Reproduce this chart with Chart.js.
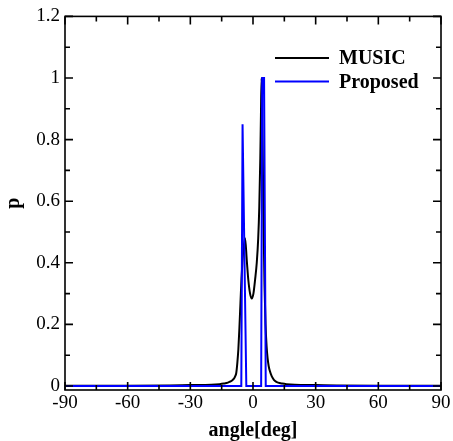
<!DOCTYPE html>
<html>
<head>
<meta charset="utf-8">
<script src="https://cdn.jsdelivr.net/npm/chart.js@4"></script>
<style>
  html, body { margin: 0; padding: 0; background: #fff; }
  #wrap { width: 453px; height: 441px; position: relative; }
</style>
</head>
<body>
<div id="wrap"><canvas id="chart"></canvas></div>
<script>
// MUSIC pseudo-spectrum (normalised), angle in degrees
const musicAngle = [-90, -60, -40, -30, -20, -16, -14, -12, -11, -10, -9, -8.5, -8, -7.5, -7, -6.5, -6, -5.5, -5, -4.5,
  -3.8, -3.0, -2.25, -1.4, -0.6, 0.2, 1.0, 1.8, 2.5, 3.0, 3.5, 3.8, 4.1, 4.5, 5.0, 5.5, 6.0, 6.5, 7.0, 7.5, 8, 9, 10,
  11, 12, 14, 16, 20, 30, 40, 60, 90];
const musicP = [0.001, 0.001, 0.002, 0.003, 0.004, 0.006, 0.008, 0.011, 0.014, 0.018, 0.025, 0.032, 0.043, 0.075, 0.12,
  0.19, 0.27, 0.35, 0.41, 0.45, 0.48, 0.41, 0.345, 0.30, 0.284, 0.30, 0.345, 0.40, 0.48, 0.58, 0.74, 0.88, 1.0, 0.85,
  0.55, 0.33, 0.20, 0.13, 0.09, 0.065, 0.05, 0.031, 0.02, 0.014, 0.011, 0.008, 0.006, 0.004, 0.003, 0.002, 0.001, 0.001];

// Proposed method spectrum
const propAngle = [-90, -5.6, -5.0, -3.2, 3.9, 4.4, 5.3, 6.1, 90];
const propP = [0, 0, 0.85, 0, 0, 1.0, 1.0, 0, 0];

const xTicks = [-90, -60, -30, 0, 30, 60, 90];
const xMinor = [-75, -45, -15, 15, 45, 75];
const yTicks = [0, 0.2, 0.4, 0.6, 0.8, 1, 1.2];
const yMinor = [0.1, 0.3, 0.5, 0.7, 0.9, 1.1];

const seriesNames = ['MUSIC', 'Proposed'];
const seriesColors = ['#000000', '#0000ff'];

const FONT = "'Liberation Serif', 'Times New Roman', serif";

const toPoints = (xs, ys) => xs.map((x, i) => ({ x, y: ys[i] }));

// box with inward ticks on all four sides, plus the legend in the upper right
const framePlugin = {
  id: 'frame',
  afterDraw(chart) {
    const { ctx, chartArea: a, scales: { x, y } } = chart;
    ctx.save();
    ctx.strokeStyle = '#000';
    ctx.lineWidth = 1.6;
    ctx.strokeRect(a.left, a.top, a.right - a.left, a.bottom - a.top);

    const tickX = (v, len) => {
      const px = x.getPixelForValue(v);
      ctx.beginPath();
      ctx.moveTo(px, a.bottom); ctx.lineTo(px, a.bottom - len);
      ctx.moveTo(px, a.top); ctx.lineTo(px, a.top + len);
      ctx.stroke();
    };
    const tickY = (v, len) => {
      const py = y.getPixelForValue(v);
      ctx.beginPath();
      ctx.moveTo(a.left, py); ctx.lineTo(a.left + len, py);
      ctx.moveTo(a.right, py); ctx.lineTo(a.right - len, py);
      ctx.stroke();
    };
    xTicks.forEach(v => tickX(v, 8));
    xMinor.forEach(v => tickX(v, 5));
    yTicks.forEach(v => tickY(v, 8));
    yMinor.forEach(v => tickY(v, 5));

    // legend
    ctx.font = 'bold 20px ' + FONT;
    ctx.textBaseline = 'middle';
    ctx.textAlign = 'left';
    ctx.lineWidth = 2;
    seriesNames.forEach((name, i) => {
      const ly = 58 + i * 23.5;
      ctx.strokeStyle = seriesColors[i];
      ctx.beginPath();
      ctx.moveTo(275, ly); ctx.lineTo(329, ly);
      ctx.stroke();
      ctx.fillStyle = '#000';
      ctx.fillText(name, 339, ly + 1);
    });
    ctx.restore();
  }
};

new Chart(document.getElementById('chart'), {
  type: 'line',
  data: {
    datasets: [
      { label: seriesNames[1], data: toPoints(propAngle, propP), borderColor: seriesColors[1], borderWidth: 2, pointRadius: 0, tension: 0, order: 0 },
      { label: seriesNames[0], data: toPoints(musicAngle, musicP), borderColor: seriesColors[0], borderWidth: 2, pointRadius: 0, cubicInterpolationMode: 'monotone', order: 1 },
    ]
  },
  options: {
    responsive: true, maintainAspectRatio: false, animation: false,
    layout: { padding: { top: 16, right: 12, left: 0, bottom: 0 } },
    plugins: { legend: { display: false }, tooltip: { enabled: false } },
    scales: {
      x: {
        type: 'linear', min: -90, max: 90,
        grid: { display: false, drawTicks: false },
        border: { display: false },
        afterBuildTicks: s => { s.ticks = xTicks.map(v => ({ value: v })); },
        afterFit: s => { s.height = 51; s.paddingRight = 0; s.paddingLeft = 0; },
        ticks: { color: '#000', padding: 2, maxRotation: 0, font: { family: FONT, size: 19 } },
        title: { display: true, text: 'angle[deg]', color: '#000', padding: { top: 0, bottom: -2 }, font: { family: FONT, size: 20, weight: 'bold' } },
      },
      y: {
        type: 'linear', min: -0.013, max: 1.2,
        grid: { display: false, drawTicks: false },
        border: { display: false },
        afterBuildTicks: s => { s.ticks = yTicks.map(v => ({ value: v })); },
        afterFit: s => { s.width = 65; },
        ticks: { color: '#000', padding: 5, font: { family: FONT, size: 19 }, callback: v => String(v) },
        title: { display: true, text: 'p', color: '#000', padding: { top: 2, bottom: 0 }, font: { family: FONT, size: 20, weight: 'bold' } },
      },
    },
  },
  plugins: [framePlugin],
});
</script>
</body>
</html>
